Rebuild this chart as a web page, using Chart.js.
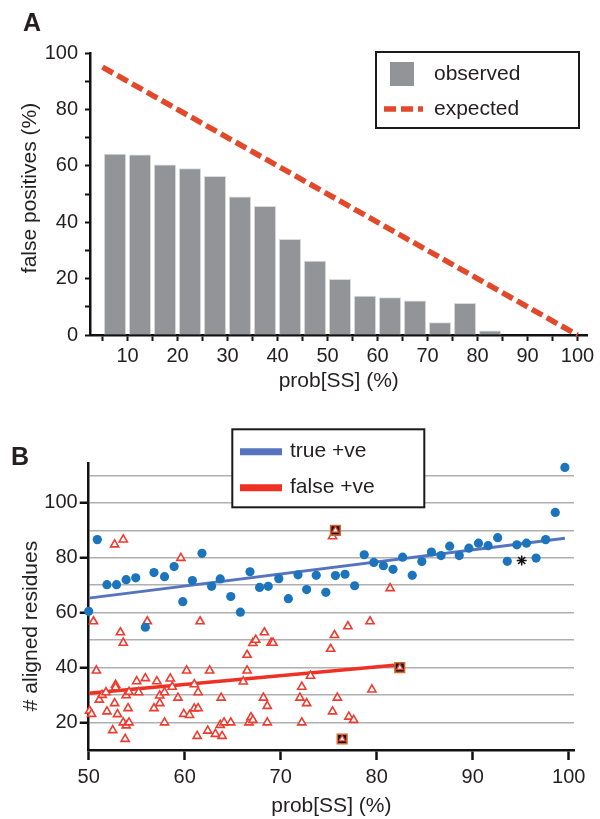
<!DOCTYPE html>
<html>
<head>
<meta charset="utf-8">
<script src="https://cdn.jsdelivr.net/npm/chart.js@4"></script>
<style>
  body { margin: 0; background: #fff; }
  canvas { display: block; }
</style>
</head>
<body>
<canvas id="chartA" width="600" height="410"></canvas>
<canvas id="chartB" width="600" height="409"></canvas>
<script>
// --- Panel A: false positives per prob[SS] bin ---
const binMid = [7.5, 12.5, 17.5, 22.5, 27.5, 32.5, 37.5, 42.5, 47.5, 52.5, 57.5, 62.5, 67.5, 72.5, 77.5, 82.5];
const observed = [64.2, 63.9, 60.3, 59.0, 56.3, 49.0, 45.6, 33.9, 26.2, 19.7, 13.8, 13.3, 12.1, 4.4, 11.2, 1.5];
const expectedX = [5, 100];
const expectedY = [95, 0];

// --- Panel B: aligned residues vs prob[SS] ---
const trueX = [50.0, 50.9, 51.9, 52.9, 53.9, 54.9, 55.9, 56.8, 57.9, 58.9, 59.8, 60.8, 61.8, 62.8, 63.7, 64.8, 65.8,
  66.8, 67.8, 68.7, 69.8, 70.8, 71.8, 72.7, 73.7, 74.7, 75.7, 76.7, 77.7, 78.7, 79.7, 80.7, 81.7, 82.7, 83.7, 84.7,
  85.7, 86.7, 87.6, 88.6, 89.6, 90.6, 91.6, 92.6, 93.6, 94.6, 95.6, 96.6, 97.6, 98.6, 99.6];
const trueY = [60.5, 86.6, 70.2, 70.2, 72.0, 72.7, 54.7, 74.6, 73.1, 76.8, 64.0, 71.7, 81.6, 69.6, 72.3, 65.9, 60.2,
  74.9, 69.2, 69.6, 72.4, 65.1, 73.8, 68.4, 73.6, 67.4, 73.5, 74.0, 69.8, 81.1, 78.3, 77.1, 75.8, 80.2, 73.6, 78.6,
  82.1, 80.8, 84.2, 80.8, 83.5, 85.3, 84.4, 87.3, 78.7, 84.7, 85.3, 79.9, 86.6, 96.5, 112.9];
const falseX = [50.5, 50.1, 50.3, 50.8, 51.1, 51.4, 51.8, 51.9, 52.7, 53.6, 52.8, 52.8, 52.7, 53.0, 52.5, 53.3, 53.6,
  53.9, 54.2, 54.1, 53.6, 53.9, 53.8, 54.2, 55.0, 55.2, 55.9, 56.1, 57.1, 56.8, 57.4, 57.4, 57.9, 57.9, 58.5, 58.7,
  59.3, 59.6, 59.9, 60.2, 60.5, 61.0, 61.0, 61.3, 61.4, 61.4, 61.6, 62.6, 62.4, 63.2, 63.7, 63.9, 63.8, 64.1, 64.8,
  66.1, 66.5, 66.5, 66.7, 66.9, 67.1, 67.1, 67.4, 68.3, 68.2, 68.6, 68.6, 69.0, 69.2, 72.0, 72.2, 72.2, 72.7, 73.1,
  75.2, 75.6, 75.4, 75.4, 75.9, 77.0, 77.1, 77.6, 79.3, 79.5, 81.4];
const falseY = [56.8, 24.3, 23.1, 38.9, 28.3, 30.0, 31.0, 24.0, 84.8, 86.6, 33.7, 32.8, 27.0, 23.0, 17.2, 52.8, 49.0,
  29.9, 31.1, 25.2, 20.0, 18.9, 14.0, 20.0, 35.0, 31.0, 36.1, 56.8, 35.0, 25.2, 27.0, 29.8, 31.0, 20.0, 36.0, 33.0,
  29.0, 79.9, 23.1, 38.9, 22.7, 33.9, 25.1, 15.1, 31.0, 25.2, 56.8, 38.9, 17.0, 15.8, 19.1, 15.1, 29.0, 20.0, 20.0,
  34.9, 44.6, 38.9, 20.0, 21.9, 20.9, 48.9, 50.1, 52.8, 29.0, 26.0, 20.0, 49.0, 49.0, 29.0, 33.0, 20.0, 27.0, 37.0,
  46.8, 51.8, 87.8, 24.0, 29.0, 55.0, 22.1, 20.9, 56.8, 32.0, 68.9];
// boxed (highlighted) false positives
const boxedX = [75.7, 82.4, 76.4];
const boxedY = [90.0, 40.0, 14.0];
// marked true positive (*)
const starX = [95.1];
const starY = [79.0];
// regression lines
const trueFitX = [50, 99.6];
const trueFitY = [65.3, 87.1];
const falseFitX = [50, 82.4];
const falseFitY = [30.7, 41.0];

const pts = (xs, ys) => xs.map((x, i) => ({ x: x, y: ys[i] }));

const FONT = "'Liberation Sans', Arial, Helvetica, sans-serif";
const INK = '#231f20';
Chart.defaults.font.family = FONT;
Chart.defaults.color = INK;

// draws panel letter, rotated y title and a framed legend
const panelText = {
  id: 'panelText',
  afterDraw(chart, args, o) {
    const ctx = chart.ctx;
    ctx.save();
    ctx.fillStyle = INK;
    ctx.font = 'bold 25px ' + FONT;
    ctx.textBaseline = 'alphabetic';
    ctx.fillText(o.letter, o.letterX, o.letterY);

    ctx.save();
    ctx.translate(o.titleX, o.titleY);
    ctx.rotate(-Math.PI / 2);
    ctx.font = '21px ' + FONT;
    ctx.textAlign = 'center';
    ctx.textBaseline = 'middle';
    ctx.fillText(o.title, 0, 0);
    ctx.restore();

    const L = o.legend;
    ctx.fillStyle = '#fff';
    ctx.fillRect(L.x, L.y, L.w, L.h);
    ctx.lineWidth = 2;
    ctx.strokeStyle = '#1a1a1a';
    ctx.strokeRect(L.x, L.y, L.w, L.h);
    ctx.font = '21px ' + FONT;
    ctx.textBaseline = 'middle';
    L.items.forEach(it => {
      const ds = chart.data.datasets[it.ds];
      if (it.kind === 'box') {
        ctx.fillStyle = ds.backgroundColor;
        ctx.fillRect(it.sx, it.y - it.size / 2, it.size, it.size);
      } else {
        ctx.strokeStyle = ds.borderColor;
        ctx.lineWidth = it.width;
        ctx.setLineDash(it.dash || []);
        ctx.beginPath();
        ctx.moveTo(it.sx, it.y);
        ctx.lineTo(it.sx + it.len, it.y);
        ctx.stroke();
        ctx.setLineDash([]);
      }
      ctx.fillStyle = INK;
      ctx.fillText(ds.label, L.textX, it.y);
    });
    ctx.restore();
  }
};

const tickFont = { size: 20 };

// Panel A
new Chart(document.getElementById('chartA'), {
  type: 'bar',
  data: {
    datasets: [{
      label: 'observed',
      data: pts(binMid, observed),
      backgroundColor: '#939498',
      borderColor: '#dcdcde',
      borderWidth: 1,
      borderSkipped: 'bottom',
      barThickness: 21.5,
      order: 2
    }, {
      type: 'line',
      label: 'expected',
      data: pts(expectedX, expectedY),
      borderColor: '#e2492a',
      borderWidth: 5.5,
      borderDash: [12, 5],
      borderCapStyle: 'butt',
      pointRadius: 0,
      clip: false,
      order: 1
    }]
  },
  options: {
    responsive: false,
    animation: false,
    layout: { padding: { top: 53, right: 12.5, left: 0, bottom: 0 } },
    plugins: {
      legend: { display: false },
      tooltip: { enabled: false },
      panelText: {
        letter: 'A', letterX: 23, letterY: 31,
        title: 'false positives (%)', titleX: 30, titleY: 188,
        legend: {
          x: 376, y: 52, w: 203, h: 76, textX: 434,
          items: [
            { ds: 0, kind: 'box', sx: 390, y: 74, size: 24 },
            { ds: 1, kind: 'line', sx: 384, len: 39, y: 109, width: 5.5, dash: [12, 5] }
          ]
        }
      }
    },
    scales: {
      x: {
        type: 'linear', min: 2.5, max: 102, offset: false,
        border: { color: '#111', width: 2.5 },
        grid: { drawOnChartArea: false, offset: false, tickLength: 6, tickColor: '#111', tickWidth: 2 },
        ticks: {
          stepSize: 5, includeBounds: false, autoSkip: false, maxRotation: 0, padding: 3, font: tickFont,
          callback: v => (v % 10 === 0 ? v : '')
        },
        title: { display: true, text: 'prob[SS] (%)', font: { size: 21 }, padding: { top: 0, bottom: 16 } },
        afterFit: s => { s.height = 75; }
      },
      y: {
        min: 0, max: 100,
        border: { color: '#111', width: 2.5 },
        grid: { drawOnChartArea: false, tickLength: 5, tickColor: '#111', tickWidth: 2 },
        ticks: {
          stepSize: 10, autoSkip: false, padding: 7, font: tickFont,
          callback: v => (v % 20 === 0 ? v : '')
        },
        afterFit: s => { s.width = 90; }
      }
    }
  },
  plugins: [panelText]
});

// Panel B
new Chart(document.getElementById('chartB'), {
  type: 'scatter',
  data: {
    datasets: [{
      label: '*',
      data: pts(starX, starY),
      pointStyle: 'star', pointRadius: 5, borderColor: '#111', borderWidth: 1.5,
      clip: false, order: 0
    }, {
      label: 'boxed',
      data: pts(boxedX, boxedY),
      pointStyle: 'triangle', pointRadius: 3.8, backgroundColor: '#fff', borderColor: '#ec3b2f', borderWidth: 1.3,
      clip: false, order: 1
    }, {
      label: 'boxed-frame',
      data: pts(boxedX, boxedY),
      pointStyle: 'rect', pointRadius: 6.8, backgroundColor: '#111', borderColor: '#d0692f', borderWidth: 1.6,
      clip: false, order: 2
    }, {
      label: 'true +ve',
      data: pts(trueX, trueY),
      pointStyle: 'circle', pointRadius: 4.6, backgroundColor: '#1c75bc', borderColor: '#1c75bc', borderWidth: 0,
      clip: false, order: 3
    }, {
      label: 'false +ve',
      data: pts(falseX, falseY),
      pointStyle: 'triangle', pointRadius: 4.7, backgroundColor: '#fff', borderColor: '#ec3b2f', borderWidth: 1.6,
      clip: false, order: 4
    }, {
      label: 'true +ve',
      data: pts(trueFitX, trueFitY),
      showLine: true, borderColor: '#5674bd', borderWidth: 3, pointRadius: 0, order: 5
    }, {
      label: 'false +ve',
      data: pts(falseFitX, falseFitY),
      showLine: true, borderColor: '#ee3124', borderWidth: 3.5, pointRadius: 0, order: 6
    }]
  },
  options: {
    responsive: false,
    animation: false,
    layout: { padding: { top: 53, right: 26, left: 0, bottom: 0 } },
    plugins: {
      legend: { display: false },
      tooltip: { enabled: false },
      panelText: {
        letter: 'B', letterX: 11, letterY: 54.5,
        title: '# aligned residues', titleX: 31, titleY: 216,
        legend: {
          x: 232.3, y: 19.3, w: 192, h: 78, textX: 290,
          items: [
            { ds: 5, kind: 'line', sx: 240, len: 42, y: 41.7, width: 7 },
            { ds: 6, kind: 'line', sx: 240, len: 42, y: 77.7, width: 7 }
          ]
        }
      }
    },
    scales: {
      x: {
        type: 'linear', min: 50, max: 100.55,
        border: { color: '#111', width: 2.5 },
        grid: { drawOnChartArea: false, tickLength: 10, tickColor: '#111', tickWidth: 2.5 },
        ticks: { stepSize: 10, includeBounds: false, autoSkip: false, maxRotation: 0, padding: 5, font: tickFont },
        title: { display: true, text: 'prob[SS] (%)', font: { size: 21 }, padding: { top: 0, bottom: 0 } },
        afterFit: s => { s.height = 69; }
      },
      y: {
        min: 10, max: 114.5,
        border: { color: '#111', width: 2.5 },
        grid: {
          lineWidth: 1.5,
          color: c => (c.tick.value >= 20 && c.tick.value <= 110 ? '#b0b0b0' : 'rgba(0,0,0,0)'),
          tickLength: 9, tickWidth: 2.5,
          tickColor: c => (c.tick.value % 20 === 0 && c.tick.value <= 100 ? '#111' : 'rgba(0,0,0,0)')
        },
        ticks: {
          stepSize: 10, includeBounds: false, autoSkip: false, padding: 2, font: tickFont,
          callback: v => (v % 20 === 0 && v <= 100 ? v : '')
        },
        afterFit: s => { s.width = 88.7; }
      }
    }
  },
  plugins: [panelText]
});
</script>
</body>
</html>
